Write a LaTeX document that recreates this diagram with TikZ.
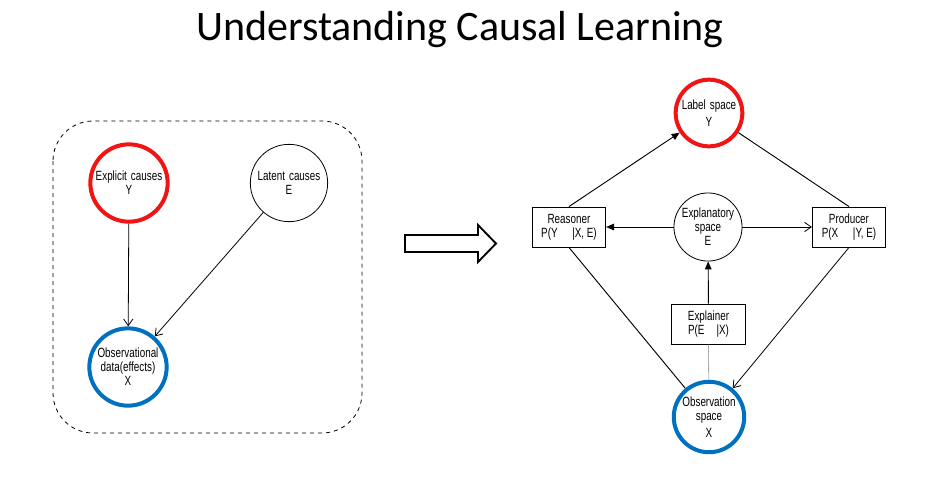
\documentclass[tikz,border=0pt]{standalone}
\usepackage{fontspec}
\setmainfont{Carlito}
\newfontfamily\narrowfont{Liberation Sans}[FakeStretch=0.74]
\usetikzlibrary{arrows.meta}
\definecolor{causered}{RGB}{240,20,20}
\definecolor{effectblue}{RGB}{0,112,192}

\begin{document}
\begin{tikzpicture}[x=0.75pt,y=-0.75pt,
  every node/.style={font=\narrowfont\fontsize{10}{10.5}\selectfont, align=center, inner sep=1pt},
  var/.style={circle, draw, line width=0.6pt, minimum size=#1},
  redvar/.style={var=#1, draw=causered, line width=3pt},
  bluevar/.style={var=#1, draw=effectblue, line width=3pt},
  fn/.style={rectangle, draw, line width=0.7pt, minimum width=55pt, minimum height=30pt},
  open/.style={-{Straight Barb[length=5pt,width=7pt]}, line width=0.6pt},
  solid tip/.style={-{Triangle[length=6pt,width=5pt]}, line width=0.7pt}]
  \useasboundingbox (0,0) rectangle (936,480);
  \node[font=\fontsize{31.5}{34}\selectfont] (title) at (460,30) {Understanding Causal Learning};

  \draw[dashed, line width=0.6pt, rounded corners=30pt] (53,121) rectangle (362,433);
  \node[redvar=58pt] (expY) at (129,183) {Explicit\hspace{0.3em}causes\\Y};
  \node[var=58pt] (latE) at (289,183) {Latent\hspace{0.3em}causes\\E};
  \node[bluevar=58pt] (obsX) at (128,367) {Observational\\data(effects)\\X};
  \draw[open] (expY) -- (obsX);
  \draw[open] (latE) -- (obsX);

  \draw[line width=1.4pt, line join=miter] (405,235) -- (478,235) -- (478,225) -- (496,243.5) -- (478,262) -- (478,252) -- (405,252) -- cycle;

  \node[redvar=50pt] (lab) at (709,113) {Label\hspace{0.3em}space\\[2pt]Y};
  \node[var=51pt] (exp) at (708,227) {Explanatory\\space\\E};
  \node[bluevar=50pt] (obs) at (709,417) {Observation\\space\\[2pt]X};
  \node[fn] (rea) at (569,227) {Reasoner\\P(Y\hspace{1.1em}|X,\hspace{0.2em}E)};
  \node[fn] (pro) at (849,227) {Producer\\P(X\hspace{1.1em}|Y,\hspace{0.2em}E)};
  \node[fn, minimum width=56pt] (exr) at (708.5,324) {Explainer\\P(E\hspace{0.9em}|X)};

  \draw[solid tip] (rea.north) -- (lab);
  \draw[line width=0.7pt] (lab) -- (pro.north);
  \draw[solid tip] (exp) -- (rea);
  \draw[open] (exp) -- (pro);
  \draw[solid tip] (exr) -- (exp);
  \draw[gray, thin] (exr) -- (obs);
  \draw[line width=0.7pt] (rea.south) -- (obs);
  \draw[open] (pro.south) -- (obs);
\end{tikzpicture}
\end{document}
